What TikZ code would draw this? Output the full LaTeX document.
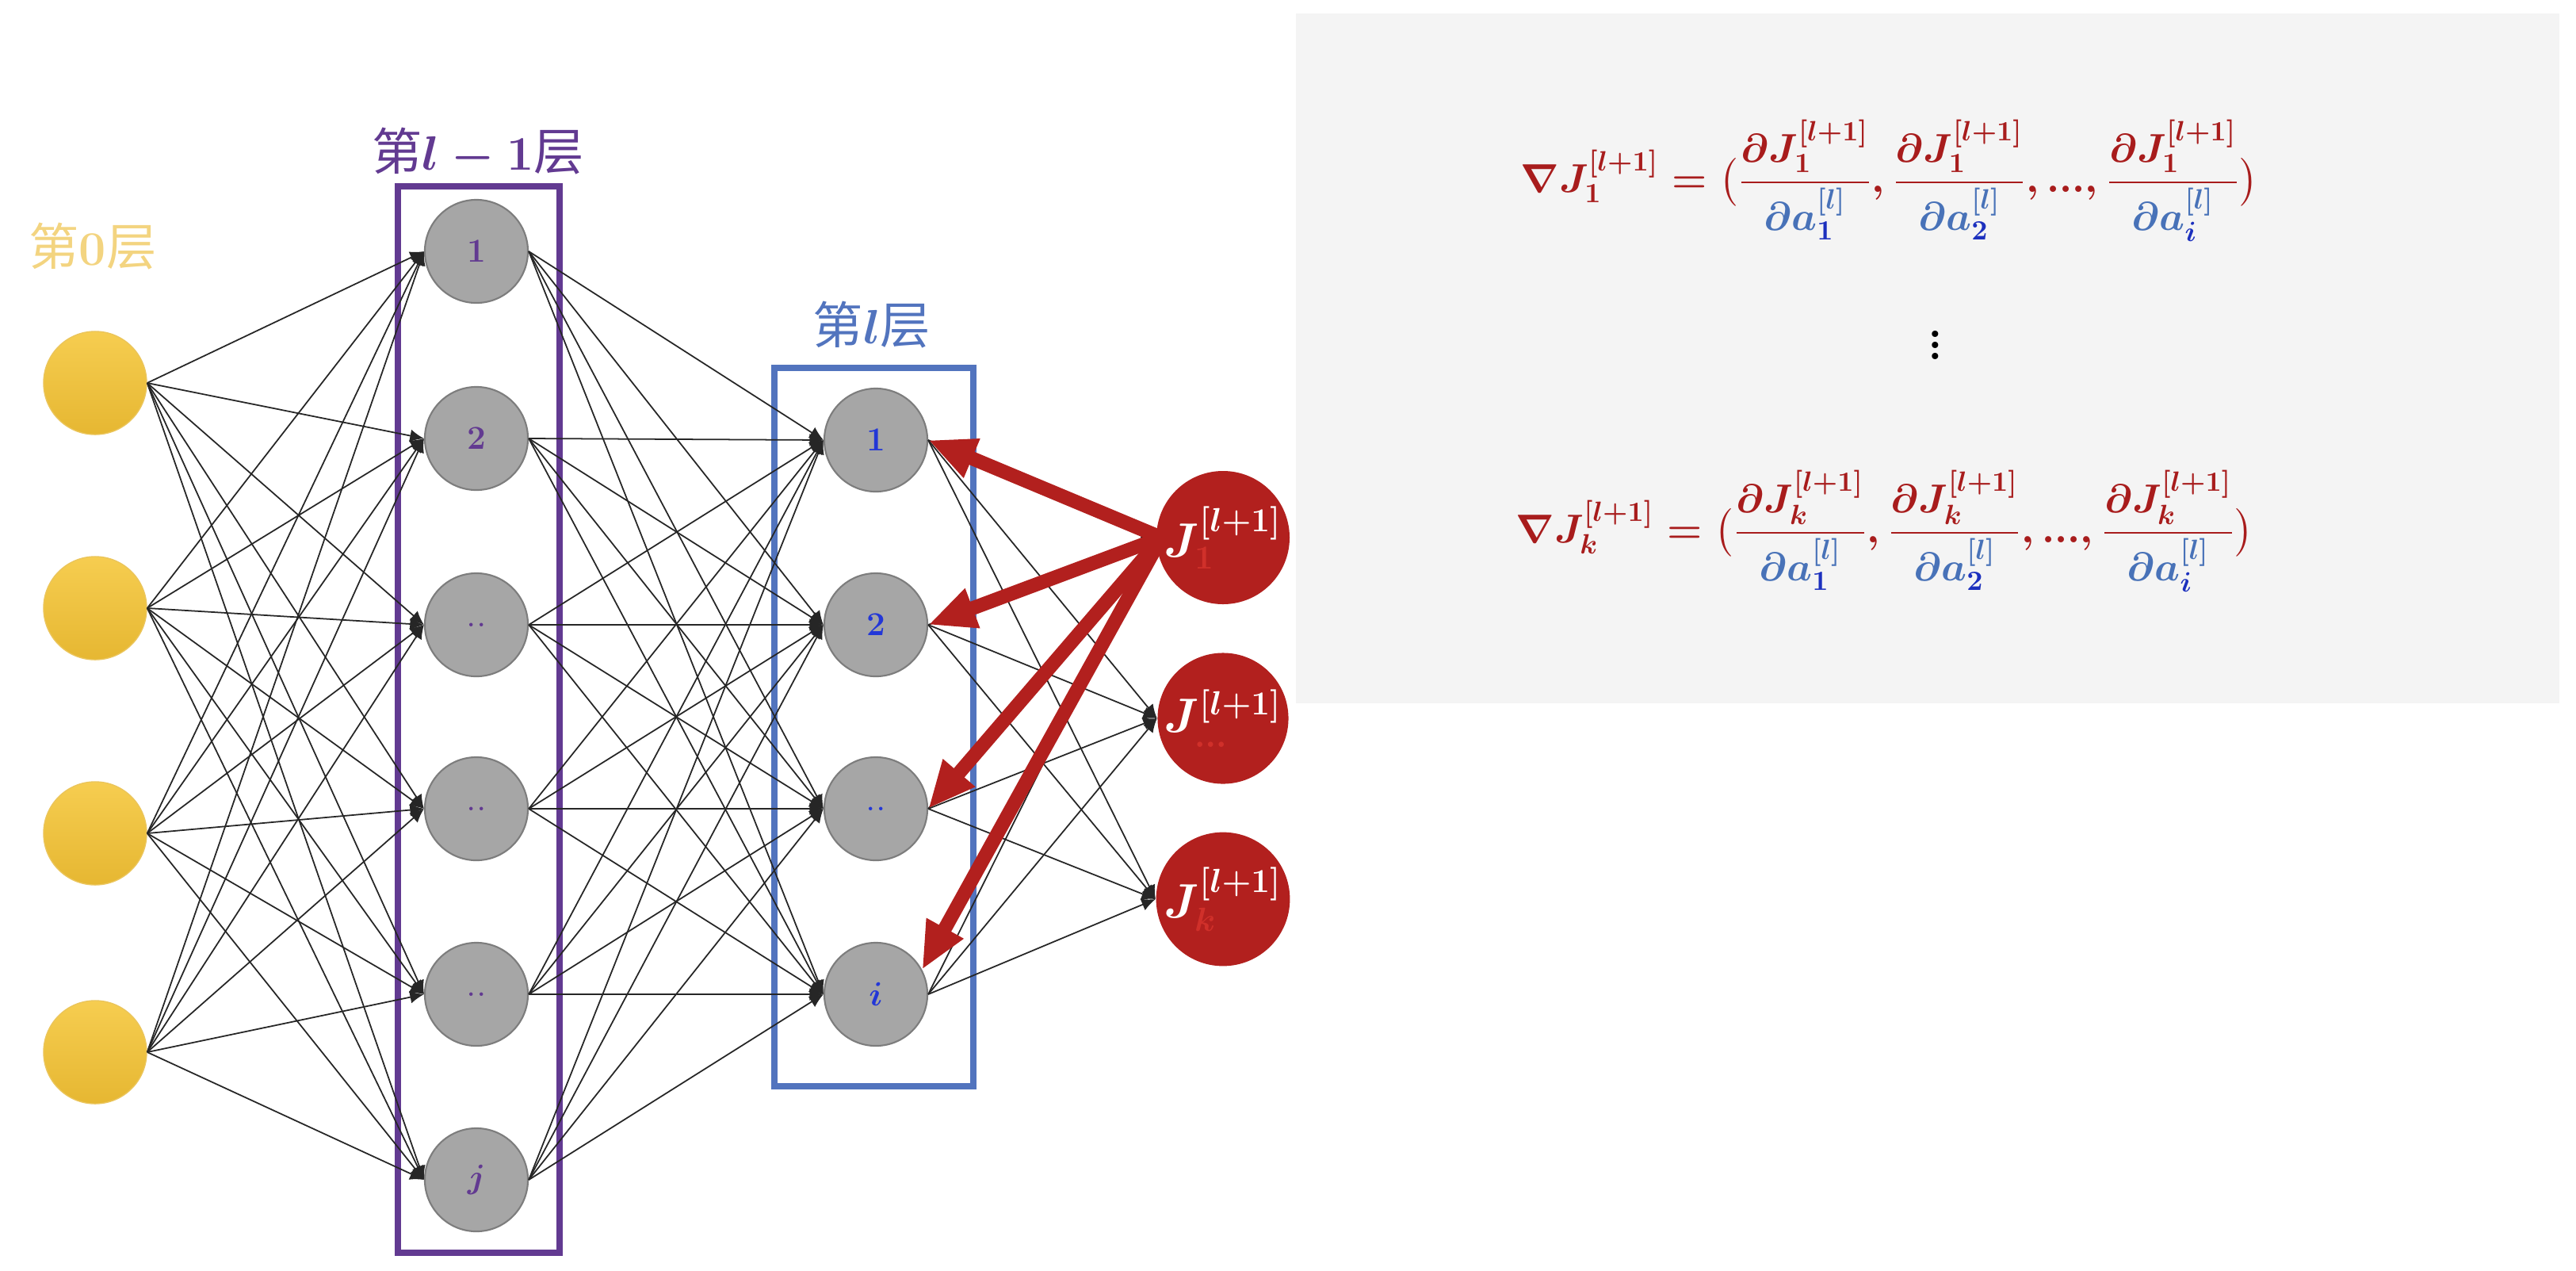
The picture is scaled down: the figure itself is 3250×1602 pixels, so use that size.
\documentclass[tikz,border=0pt]{standalone}
\usepackage{amsmath}
\usepackage{fontspec}
\newfontfamily\cjk{Noto Sans CJK SC}
\usetikzlibrary{arrows.meta}

\definecolor{nodegray}{RGB}{166,166,166}
\definecolor{nodeedge}{RGB}{125,125,125}
\definecolor{goldtop}{RGB}{246,205,80}
\definecolor{goldbot}{RGB}{230,183,50}
\definecolor{goldlabel}{RGB}{243,212,128}
\definecolor{layerpurple}{RGB}{98,58,145}
\definecolor{layerblue}{RGB}{82,116,190}
\definecolor{idxblue}{RGB}{35,55,215}
\definecolor{jred}{RGB}{178,32,30}
\definecolor{jsub}{RGB}{208,48,42}
\definecolor{panelgray}{RGB}{244,244,244}
\definecolor{fred}{RGB}{168,28,28}
\definecolor{fblue}{RGB}{72,114,184}
\definecolor{fdblue}{RGB}{28,48,190}

% one partial derivative of the loss term #1 w.r.t. activation #2
\newcommand{\pfrac}[2]{\dfrac{\partial J_{#1}^{[l+1]}}{\textcolor{fblue}{\partial a_{\textcolor{fdblue}{#2}}^{[l]}}}}
% full gradient row for the loss term #1
\newcommand{\gradrow}[1]{\nabla J_{#1}^{[l+1]} = \big(\pfrac{#1}{1},\pfrac{#1}{2},...,\pfrac{#1}{i}\big)}

\tikzset{
  neuron/.style={circle, minimum size=1.3cm, inner sep=0pt, draw=nodeedge, line width=0.6pt, fill=nodegray,
                 font=\fontsize{13}{15}\selectfont},
  inputnode/.style={circle, minimum size=1.3cm, inner sep=0pt, top color=goldtop, bottom color=goldbot,
                    draw=goldbot!80!white, line width=0.4pt},
  outnode/.style={circle, minimum size=1.32cm, inner sep=0pt, fill=jred, text=white,
                  font=\fontsize{17}{20}\selectfont},
  wire/.style={line width=0.5pt, black!85, -{Latex[length=5pt,width=4.5pt]}},
  gradarrow/.style={line width=5pt, jred, -{Triangle[length=17pt,width=14pt]}},
  layerlabel/.style={font=\fontsize{18}{22}\selectfont, inner sep=0pt},
  rowformula/.style={text=fred, font=\fontsize{14.5}{17}\selectfont, inner sep=0pt},
}

\begin{document}
\boldmath
\begin{tikzpicture}[x=0.01cm, y=-0.01cm]
\useasboundingbox (0,0) rectangle (3250,1602);

% formula panel
\fill[panelgray] (1635,17) rectangle (3229,887);

% layer frames
\draw[layerpurple, line width=2.2pt] (502,235) rectangle (706,1580);
\draw[layerblue, line width=2.2pt] (977,464) rectangle (1228,1370);

% input layer
\node[inputnode] (in1) at (120,483)  {};
\node[inputnode] (in2) at (120,767)  {};
\node[inputnode] (in3) at (120,1051) {};
\node[inputnode] (in4) at (120,1327) {};

% layer l-1
\node[neuron, text=layerpurple] (h1) at (601,317)  {$1$};
\node[neuron, text=layerpurple] (h2) at (601,553)  {$2$};
\node[neuron, text=layerpurple] (h3) at (601,788)  {..};
\node[neuron, text=layerpurple] (h4) at (601,1020) {..};
\node[neuron, text=layerpurple] (h5) at (601,1254) {..};
\node[neuron, text=layerpurple] (h6) at (601,1488) {$j$};

% layer l
\node[neuron, text=idxblue] (l1) at (1105,555)  {$1$};
\node[neuron, text=idxblue] (l2) at (1105,788)  {$2$};
\node[neuron, text=idxblue] (l3) at (1105,1020) {..};
\node[neuron, text=idxblue] (l4) at (1105,1254) {$i$};

% loss terms of layer l+1
\node[outnode] (J1) at (1543,678)  {$J_{\textcolor{jsub}{1}}^{[l+1]}$};
\node[outnode] (J2) at (1543,906)  {$J_{\textcolor{jsub}{...}}^{[l+1]}$};
\node[outnode] (J3) at (1543,1134) {$J_{\textcolor{jsub}{k}}^{[l+1]}$};

% fully connected wiring
\foreach \a in {1,...,4}
  \foreach \b in {1,...,6}
    \draw[wire] (in\a.east) -- (h\b.west);
\foreach \a in {1,...,6}
  \foreach \b in {1,...,4}
    \draw[wire] (h\a.east) -- (l\b.west);
\foreach \a in {1,...,4}
  \foreach \b in {1,...,3}
    \draw[wire] (l\a.east) -- (J\b.west);

% gradient flowing back from J_1
\coordinate (src) at ([xshift=2pt]J1.west);
\draw[gradarrow] (src) -- (l1.east);
\draw[gradarrow] (src) -- (l2.east);
\draw[gradarrow] (src) -- (l3.east);
\draw[gradarrow] (src) -- (l4.28);

% layer captions
\node[layerlabel, text=goldlabel] (cap0) at (117,311) {{\cjk 第}$0${\cjk 层}};
\node[layerlabel, text=layerpurple] (cap1) at (603,192) {{\cjk 第}$l-1${\cjk 层}};
\node[layerlabel, text=layerblue] (cap2) at (1100,410) {{\cjk 第}$l${\cjk 层}};

% gradient formulas
\node[rowformula] (row1) at (2384,228) {$\displaystyle\gradrow{1}$};
\node[font=\fontsize{28}{32}\selectfont, inner sep=0pt] (vd) at (2442,425) {$\vdots$};
\node[rowformula] (row2) at (2378,670) {$\displaystyle\gradrow{k}$};
\end{tikzpicture}
\end{document}
